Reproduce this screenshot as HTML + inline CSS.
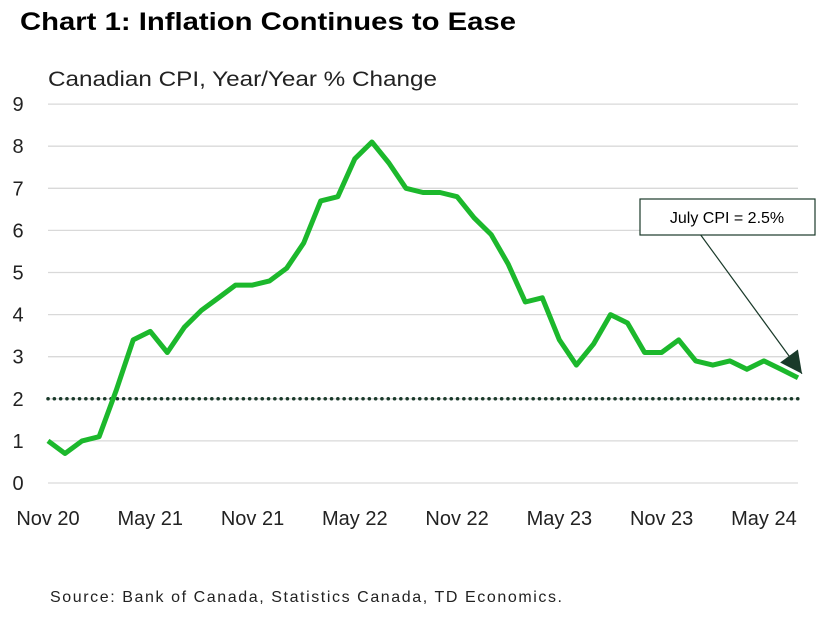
<!DOCTYPE html>
<html><head><meta charset="utf-8"><style>
body{margin:0;background:#fff;width:827px;height:617px;overflow:hidden;font-family:"Liberation Sans",sans-serif}
</style></head><body>
<svg width="827" height="617" xmlns="http://www.w3.org/2000/svg">
<text x="20" y="30" font-size="25" font-weight="bold" fill="#000" textLength="496" lengthAdjust="spacingAndGlyphs">Chart 1: Inflation Continues to Ease</text>
<text x="48" y="86" font-size="21" fill="#222" textLength="389" lengthAdjust="spacingAndGlyphs">Canadian CPI, Year/Year % Change</text>
<g id="grid"></g>
<g id="yticks"></g>
<g id="xticks"></g>
<line id="target" stroke="#1a3a2a" stroke-width="3.5" stroke-dasharray="0.1 6.2" stroke-linecap="round"/>
<path id="series" fill="none" stroke="#1cb82c" stroke-width="5" stroke-linejoin="round"/>
<g>
<line id="arrowline" x1="700" y1="234" stroke="#1a3a2a" stroke-width="1.2"/>
<polygon id="arrowhead" fill="#1a3a2a"/>
<rect x="640" y="199" width="175" height="36" fill="#fff" stroke="#1a3a2a" stroke-width="1.2"/>
<text x="727" y="223" font-size="16" text-anchor="middle" fill="#000">July CPI = 2.5%</text>
</g>
<text x="50" y="602" font-size="16" fill="#222" textLength="512" lengthAdjust="spacing">Source: Bank of Canada, Statistics Canada, TD Economics.</text>
</svg>
<script>
const values=[1.0,0.7,1.0,1.1,2.2,3.4,3.6,3.1,3.7,4.1,4.4,4.7,4.7,4.8,5.1,5.7,6.7,6.8,7.7,8.1,7.6,7.0,6.9,6.9,6.8,6.3,5.9,5.2,4.3,4.4,3.4,2.8,3.3,4.0,3.8,3.1,3.1,3.4,2.9,2.8,2.9,2.7,2.9,2.7,2.5];
const xLabels=["Nov 20","May 21","Nov 21","May 22","Nov 22","May 23","Nov 23","May 24"];
const yTicks=[0,1,2,3,4,5,6,7,8,9];
const target=2;
const ns="http://www.w3.org/2000/svg";
const x=i=>48+i*(750/44);
const y=v=>483-v*42.1;
const grid=document.getElementById('grid'),yt=document.getElementById('yticks'),xt=document.getElementById('xticks');
yTicks.forEach(t=>{
 const l=document.createElementNS(ns,'line');
 
 
 l.setAttribute('x1',48);l.setAttribute('x2',798);l.setAttribute('y1',y(t));l.setAttribute('y2',y(t));
 l.setAttribute('stroke','#d9d9d9');l.setAttribute('stroke-width','1.3');grid.appendChild(l);
 const tx=document.createElementNS(ns,'text');
 
 
 tx.setAttribute('x',18);tx.setAttribute('y',y(t)+7);tx.setAttribute('font-size','20');tx.setAttribute('text-anchor','middle');tx.setAttribute('fill','#222');
 tx.textContent=t;yt.appendChild(tx);
});
xLabels.forEach((s,i)=>{
 const tx=document.createElementNS(ns,'text');
 
 
 tx.setAttribute('x',x(i*6));tx.setAttribute('y',525);tx.setAttribute('font-size','20');tx.setAttribute('text-anchor','middle');tx.setAttribute('fill','#222');
 tx.textContent=s;xt.appendChild(tx);
});
const tl=document.getElementById('target');
tl.setAttribute('x1',48);tl.setAttribute('x2',798);tl.setAttribute('y1',y(target));tl.setAttribute('y2',y(target));
document.getElementById('series').setAttribute('d',values.map((v,i)=>(i?'L':'M')+x(i).toFixed(1)+','+y(v).toFixed(1)).join(''));
const n=values.length-1,ex=x(n)+4,ey=y(values[n])-4;
const al=document.getElementById('arrowline');al.setAttribute('x2',ex);al.setAttribute('y2',ey);
const dx=ex-700,dy=ey-234,len=Math.hypot(dx,dy),ux=dx/len,uy=dy/len,bx=ex-ux*22,by=ey-uy*22;
document.getElementById('arrowhead').setAttribute('points',`${ex},${ey} ${bx-uy*11},${by+ux*11} ${bx+uy*11},${by-ux*11}`);
</script>
</body></html>
